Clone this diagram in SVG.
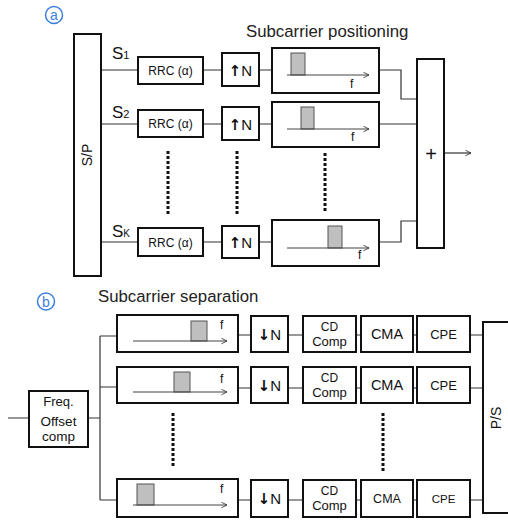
<svg xmlns="http://www.w3.org/2000/svg" width="508" height="520" viewBox="0 0 508 520">
<defs>
<marker id="arr" viewBox="0 0 10 10" refX="9" refY="5" markerWidth="7" markerHeight="7" markerUnits="userSpaceOnUse" orient="auto">
<path d="M1,1 L9,5 L1,9" fill="none" stroke="#333" stroke-width="1.2"/>
</marker>
</defs>
<style>
.box{fill:#fff;stroke:#111;stroke-width:2}
.con{fill:none;stroke:#333;stroke-width:1.2}
.axis{fill:none;stroke:#444;stroke-width:1}
.sc{fill:#bfbfbf;stroke:#555;stroke-width:1}
.dot{fill:none;stroke:#111;stroke-width:3;stroke-dasharray:3 2}
text{font-family:"Liberation Sans",Arial,sans-serif;fill:#111}
.t12{font-size:12px;text-anchor:middle}
.tn{font-size:15px;text-anchor:middle}
.ar{font-family:"DejaVu Sans",sans-serif;font-weight:bold;font-size:15px}
.f{font-size:12px}
.cap{font-size:16.8px;fill:#222}
.tag{fill:none;stroke:#3d7fdc;stroke-width:1.5}
.tagt{font-size:14px;fill:#3d7fdc;text-anchor:middle}
</style>

<g id="tag-a"><circle class="tag" cx="54" cy="15" r="8.5"/><text class="tagt" x="54" y="20">a</text></g>
<g id="tag-b"><circle class="tag" cx="46" cy="301.5" r="8.5"/><text class="tagt" x="46" y="306.5">b</text></g>

<text id="title-a" class="cap" x="246" y="37">Subcarrier positioning</text>
<text id="title-b" class="cap" x="98" y="302">Subcarrier separation</text>

<g id="connectors">
<path class="con" d="M101,70 H138 M203,70 H222 M259,70 H272 M379,70 H401 V99 H417"/>
<path class="con" d="M101,124 H138 M203,124 H222 M259,124 H272 M379,124 H417"/>
<path class="con" d="M101,242 H138 M203,242 H222 M259,242 H272 M379,242 H401 V221 H417"/>
<path class="con" d="M444,153 H471" marker-end="url(#arr)"/>
<path class="con" d="M8,418 H29 M88,418 H100 M100,336 V500 M100,336 H117 M100,387 H117 M100,500 H117"/>
<path class="con" d="M238,335 H251 M288,335 H303 M356,335 H361 M413,335 H417 M470,335 H483"/>
<path class="con" d="M238,388 H251 M288,388 H303 M356,388 H361 M413,388 H417 M470,388 H483"/>
<path class="con" d="M238,500 H251 M288,500 H303 M356,500 H361 M413,500 H417 M470,500 H483"/>
<path class="dot" d="M168,151 V215 M237,151 V215 M325,153 V211 M173,413 V468 M383,413 V473"/>
</g>

<g id="sp"><rect class="box" x="74" y="34" width="27" height="242"/><text class="t12" style="font-size:14px" transform="translate(92,155) rotate(-90)">S/P</text></g>

<g id="s1-label"><text x="112" y="59" style="font-size:17px">S<tspan style="font-size:11px">1</tspan></text></g>
<g id="s2-label"><text x="112" y="118" style="font-size:17px">S<tspan style="font-size:11px">2</tspan></text></g>
<g id="sk-label"><text x="112" y="237" style="font-size:17px">S<tspan style="font-size:10px">K</tspan></text></g>

<g id="rrc1"><rect class="box" x="138" y="57" width="65" height="27"/><text class="t12" x="170.5" y="75">RRC (α)</text></g>
<g id="rrc2"><rect class="box" x="138" y="110" width="65" height="27"/><text class="t12" x="170.5" y="128">RRC (α)</text></g>
<g id="rrck"><rect class="box" x="138" y="228" width="65" height="28"/><text class="t12" x="170.5" y="246.5">RRC (α)</text></g>

<g id="up1"><rect class="box" x="222" y="53" width="37" height="33"/><text class="tn" x="240.5" y="75.5"><tspan class="ar">↑</tspan>N</text></g>
<g id="up2"><rect class="box" x="222" y="107" width="37" height="33"/><text class="tn" x="240.5" y="129.5"><tspan class="ar">↑</tspan>N</text></g>
<g id="upk"><rect class="box" x="222" y="226" width="37" height="32"/><text class="tn" x="240.5" y="247.5"><tspan class="ar">↑</tspan>N</text></g>

<g id="pos1"><rect class="box" x="272" y="48" width="107" height="45"/><rect class="sc" x="291" y="53" width="14" height="22"/><path class="axis" d="M287,75 H369" marker-end="url(#arr)"/><text class="f" x="350" y="88">f</text></g>
<g id="pos2"><rect class="box" x="272" y="102" width="107" height="45"/><rect class="sc" x="301" y="107" width="13" height="22"/><path class="axis" d="M287,129 H369" marker-end="url(#arr)"/><text class="f" x="351" y="141">f</text></g>
<g id="posk"><rect class="box" x="272" y="220" width="107" height="46"/><rect class="sc" x="328" y="226" width="14" height="22"/><path class="axis" d="M287,248 H369" marker-end="url(#arr)"/><text class="f" x="358" y="259">f</text></g>

<g id="sum"><rect class="box" x="417" y="59" width="27" height="189"/><text x="431" y="161" style="font-size:20px;text-anchor:middle">+</text></g>

<g id="freq"><rect class="box" x="29" y="391" width="59" height="56"/>
<text class="t12" style="font-size:13px" x="58.5" y="406">Freq.</text>
<text class="t12" style="font-size:13.5px" x="58.5" y="426">Offset</text>
<text class="t12" style="font-size:13.5px" x="58.5" y="441">comp</text></g>

<g id="sep1"><rect class="box" x="117" y="315" width="121" height="37"/><rect class="sc" x="191" y="321" width="16" height="20"/><path class="axis" d="M133,341 H227" marker-end="url(#arr)"/><text class="f" x="220" y="329">f</text></g>
<g id="sep2"><rect class="box" x="117" y="367" width="121" height="36"/><rect class="sc" x="174" y="372" width="16" height="20"/><path class="axis" d="M133,392 H227" marker-end="url(#arr)"/><text class="f" x="220" y="383">f</text></g>
<g id="sepk"><rect class="box" x="117" y="479" width="121" height="38"/><rect class="sc" x="137" y="484" width="17" height="21"/><path class="axis" d="M133,505 H227" marker-end="url(#arr)"/><text class="f" x="220" y="493">f</text></g>

<g id="down1"><rect class="box" x="251" y="316" width="37" height="36"/><text class="tn" x="269.5" y="340"><tspan class="ar">↓</tspan>N</text></g>
<g id="down2"><rect class="box" x="251" y="367" width="37" height="36"/><text class="tn" x="269.5" y="391"><tspan class="ar">↓</tspan>N</text></g>
<g id="downk"><rect class="box" x="251" y="480" width="37" height="37"/><text class="tn" x="269.5" y="504"><tspan class="ar">↓</tspan>N</text></g>

<g id="cd1"><rect class="box" x="303" y="316" width="53" height="36"/><text class="t12" style="font-size:12px" x="329.5" y="331">CD</text><text class="t12" style="font-size:13px" x="329.5" y="346">Comp</text></g>
<g id="cd2"><rect class="box" x="303" y="367" width="53" height="36"/><text class="t12" style="font-size:12px" x="329.5" y="382">CD</text><text class="t12" style="font-size:13px" x="329.5" y="397">Comp</text></g>
<g id="cdk"><rect class="box" x="303" y="480" width="53" height="37"/><text class="t12" style="font-size:12px" x="329.5" y="495">CD</text><text class="t12" style="font-size:13px" x="329.5" y="510">Comp</text></g>

<g id="cma1"><rect class="box" x="361" y="316" width="52" height="36"/><text class="t12" style="font-size:14.5px" x="387" y="339">CMA</text></g>
<g id="cma2"><rect class="box" x="361" y="367" width="52" height="36"/><text class="t12" style="font-size:14.5px" x="387" y="390">CMA</text></g>
<g id="cmak"><rect class="box" x="361" y="480" width="52" height="37"/><text class="t12" style="font-size:12.5px" x="387" y="503">CMA</text></g>

<g id="cpe1"><rect class="box" x="417" y="316" width="53" height="36"/><text class="t12" style="font-size:13px" x="443.5" y="339">CPE</text></g>
<g id="cpe2"><rect class="box" x="417" y="367" width="53" height="36"/><text class="t12" style="font-size:13px" x="443.5" y="390">CPE</text></g>
<g id="cpek"><rect class="box" x="417" y="480" width="53" height="37"/><text class="t12" style="font-size:11.5px" x="443.5" y="503">CPE</text></g>

<g id="ps"><rect class="box" x="483" y="322" width="30" height="191"/><text class="t12" style="font-size:14px" transform="translate(501,418) rotate(-90)">P/S</text></g>
</svg>
